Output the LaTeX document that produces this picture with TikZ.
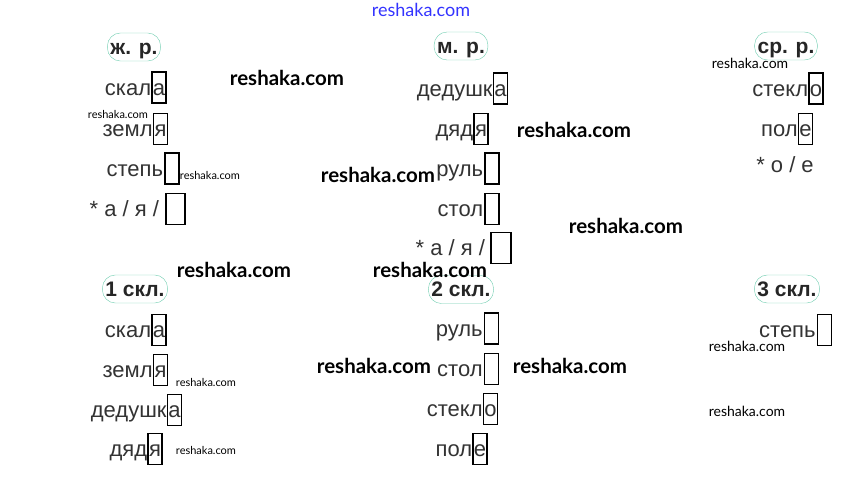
\documentclass[tikz,border=0pt]{standalone}
\usepackage{fontspec}
\setmainfont{Liberation Sans}
\newfontfamily\wmfont{Lato}
\usetikzlibrary{positioning}
\definecolor{ovalgreen}{RGB}{110,205,175}
\tikzset{
  heading/.style = {draw=ovalgreen, rounded corners=13pt, inner xsep=3pt,
                    minimum height=28pt, text height=14pt, text depth=0pt,
                    font=\fontsize{21}{25}\selectfont\bfseries, text=black!85},
  word/.style    = {inner sep=0pt, text height=15pt, text depth=0pt,
                    font=\fontsize{22}{26}\selectfont, text=black!80},
  slot/.style    = {word, draw=black, line width=1.4pt,
                    minimum width=14pt, minimum height=31pt},
  wmbig/.style   = {font=\wmfont\fontsize{20.5}{23}\selectfont\bfseries},
  wmsmall/.style = {inner sep=0pt, font=\wmfont\fontsize{11}{13}\selectfont}
}

\begin{document}
\begin{tikzpicture}[x=1pt,y=-1pt]
  \useasboundingbox (0,0) rectangle (841,479);

  % gender
  \node [heading] (fem)  at (134,47) {ж. р.};
  \node [heading] (masc) at (461,46) {м. р.};
  \node [heading] (neut) at (786,46) {ср. р.};

  \node [slot] (fem1) at (159,87.5) {а};
  \node [word, left=0pt of fem1] (fem1w) {скал};
  \node [slot] (fem2) at (160.5,129) {я};
  \node [word, left=0pt of fem2] (fem2w) {земл};
  \node [slot] (fem3) at (172,168.5) {};
  \node [word, left=1pt of fem3] (fem3w) {степь};
  \node [slot, minimum width=19pt] (fem4) at (175.5,209) {};
  \node [word, left=6pt of fem4] (fem4w) {* а / я /};

  \node [slot] (masc1) at (500.5,88.5) {а};
  \node [word, left=0pt of masc1] (masc1w) {дедушк};
  \node [slot] (masc2) at (481,129) {я};
  \node [word, left=0pt of masc2] (masc2w) {дяд};
  \node [slot] (masc3) at (492,168.5) {};
  \node [word, left=1pt of masc3] (masc3w) {руль};
  \node [slot] (masc4) at (492,209) {};
  \node [word, left=1pt of masc4] (masc4w) {стол};
  \node [slot, minimum width=20pt] (masc5) at (501,248) {};
  \node [word, left=5pt of masc5] (masc5w) {* а / я /};

  \node [slot] (neut1) at (816,88.5) {о};
  \node [word, left=0pt of neut1] (neut1w) {стекл};
  \node [slot] (neut2) at (805.5,129) {е};
  \node [word, left=0pt of neut2] (neut2w) {пол};
  \node [word] (neut3w) at (785,165) {* о / е};

  % declension
  \node [heading] (decl1) at (135,289) {1 скл.};
  \node [heading] (decl2) at (461,289.5) {2 скл.};
  \node [heading] (decl3) at (787,289) {3 скл.};

  \node [slot] (first1) at (159,330) {а};
  \node [word, left=0pt of first1] (first1w) {скал};
  \node [slot] (first2) at (160.5,370) {я};
  \node [word, left=0pt of first2] (first2w) {земл};
  \node [slot] (first3) at (174.5,410) {а};
  \node [word, left=0pt of first3] (first3w) {дедушк};
  \node [slot] (first4) at (155,449) {я};
  \node [word, left=0pt of first4] (first4w) {дяд};

  \node [slot] (second1) at (491.5,328.5) {};
  \node [word, left=1pt of second1] (second1w) {руль};
  \node [slot] (second2) at (491.5,369) {};
  \node [word, left=1pt of second2] (second2w) {стол};
  \node [slot] (second3) at (490.5,409) {о};
  \node [word, left=0pt of second3] (second3w) {стекл};
  \node [slot] (second4) at (480,449) {е};
  \node [word, left=0pt of second4] (second4w) {пол};

  \node [slot] (third1) at (824.5,330) {};
  \node [word, left=1pt of third1] (third1w) {степь};

  % watermarks
  \node [font=\wmfont\fontsize{18}{20}\selectfont, text=blue!80] (wmtop) at (421,10) {reshaka.com};
  \foreach \x/\y in {287/78, 574/130, 378/175, 626/226, 234/270, 430/270, 374/366, 570/366}
    \node [wmbig] at (\x,\y) {reshaka.com};
  \foreach \x/\y in {118/114, 210/175, 206/382, 206/450}
    \node [wmsmall] at (\x,\y) {reshaka.com};
  \foreach \x/\y in {750/63, 747/346, 747/411}
    \node [wmsmall, font=\wmfont\fontsize{14}{16}\selectfont] at (\x,\y) {reshaka.com};
\end{tikzpicture}
\end{document}
